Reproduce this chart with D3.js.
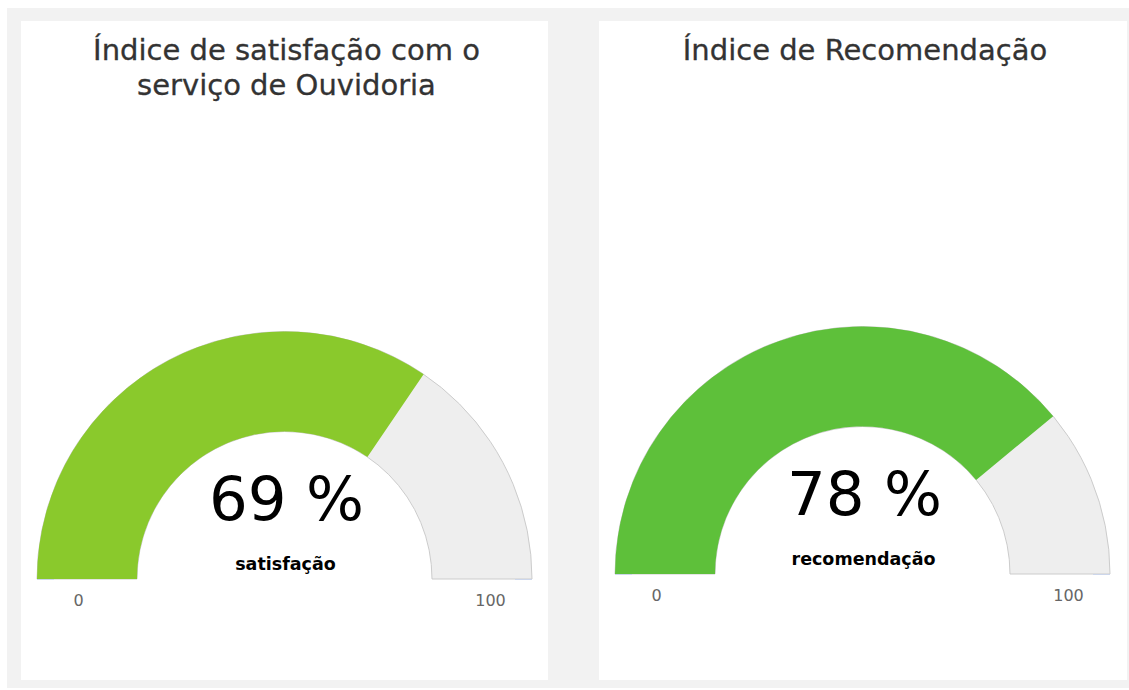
<!DOCTYPE html>
<html><head><meta charset="utf-8">
<script src="https://cdn.jsdelivr.net/npm/d3@7/dist/d3.min.js"></script>
<style>html,body{margin:0;padding:0;background:#fff;}svg{display:block;}</style>
</head><body>
<svg id="c" width="1129" height="690"></svg>
<script>
const titles = [["Índice de satisfação com o", "serviço de Ouvidoria"], ["Índice de Recomendação"]];
const values = [69, 78];
const seriesNames = ["satisfação", "recomendação"];
const tickLabels = ["0", "100"];
const axisDomain = [0, 100];
const fillColors = ["#8AC92C", "#5EC03A"];

const svg = d3.select("#c");
svg.append("rect").attr("x", 7).attr("y", 8).attr("width", 1122).attr("height", 680).attr("fill", "#f2f2f2");

const panels = [
  {x: 21, y: 21, w: 527, h: 659, cx: 263.5, cy: 558},
  {x: 599, y: 21, w: 528, h: 659, cx: 263.5, cy: 553}
];
const outerR = 247.5, innerR = 147.5;
const angle = d3.scaleLinear().domain(axisDomain).range([-Math.PI / 2, Math.PI / 2]);
const arc = d3.arc().innerRadius(innerR).outerRadius(outerR);

panels.forEach((p, i) => {
  const g = svg.append("g").attr("transform", `translate(${p.x},${p.y})`);
  g.append("rect").attr("width", p.w).attr("height", p.h).attr("fill", "#fff");
  const t = g.append("text").attr("x", p.w / 2).attr("text-anchor", "middle")
    .attr("font-family", "'DejaVu Sans', sans-serif").attr("font-size", 29).attr("fill", "#333")
    .attr("stroke", "#333").attr("stroke-width", 0.3);
  titles[i].forEach((line, k) => t.append("tspan").attr("x", p.w / 2 + 2).attr("y", 39 + k * 35).text(line));

  const gg = g.append("g").attr("transform", `translate(${p.cx},${p.cy})`);
  gg.append("path").attr("d", arc({startAngle: angle(axisDomain[0]), endAngle: angle(axisDomain[1])}))
    .attr("fill", "#EEEEEE").attr("stroke", "#cccccc").attr("stroke-width", 1);
  gg.append("path").attr("d", arc({startAngle: angle(axisDomain[0]), endAngle: angle(values[i])}))
    .attr("fill", fillColors[i]);
  gg.append("line").attr("x1", -outerR).attr("x2", -outerR + 17).attr("y1", 0.5).attr("y2", 0.5).attr("stroke", "#ccd6eb");
  gg.append("line").attr("x1", outerR - 17).attr("x2", outerR).attr("y1", 0.5).attr("y2", 0.5).attr("stroke", "#ccd6eb");

  gg.append("text").attr("x", -206).attr("y", 27).attr("text-anchor", "middle")
    .attr("font-family", "'DejaVu Sans', sans-serif").attr("font-size", 16).attr("fill", "#666").text(tickLabels[0]);
  gg.append("text").attr("x", 206).attr("y", 27).attr("text-anchor", "middle")
    .attr("font-family", "'DejaVu Sans', sans-serif").attr("font-size", 16).attr("fill", "#666").text(tickLabels[1]);

  gg.append("text").attr("x", 2).attr("y", -59).attr("text-anchor", "middle")
    .attr("font-family", "'DejaVu Sans', sans-serif").attr("font-size", 61).attr("fill", "#000").text(values[i] + " %");
  gg.append("text").attr("x", 1).attr("y", -9).attr("text-anchor", "middle")
    .attr("font-family", "'DejaVu Sans', sans-serif").attr("font-weight", "bold").attr("font-size", 17.5).attr("fill", "#000").text(seriesNames[i]);
});
</script>
</body></html>
